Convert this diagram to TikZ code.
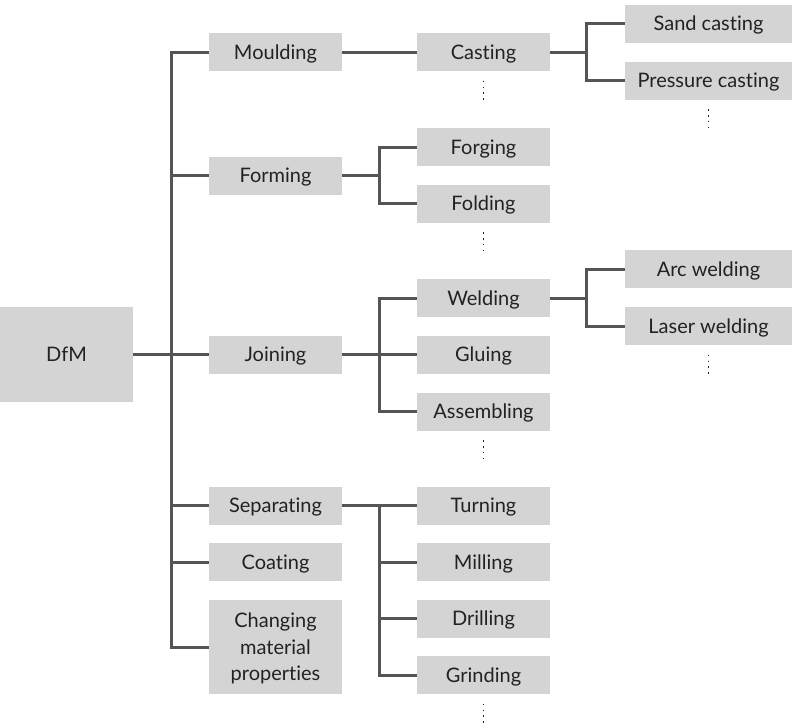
\documentclass[tikz,border=0pt]{standalone}
\usepackage{fontspec}
\setmainfont{Lato}[Ligatures={NoCommon,NoRare}]
\begin{document}
\begin{tikzpicture}[x=1pt,y=-1pt,
  box/.style={fill=boxgray,draw=none,inner sep=0pt,align=center,
    font=\fontsize{20}{26.5}\selectfont,text=textdark},
  oneline/.style={box,text height=14.4pt,text depth=0pt},
  lvone/.style={oneline,minimum width=133pt,minimum height=38pt},
  lvtwo/.style={oneline,minimum width=133pt,minimum height=38pt},
  lvthree/.style={oneline,minimum width=167pt,minimum height=38pt},
  link/.style={draw=linegray,line width=3pt},
  more/.style={draw=textdark,line width=1.6pt,dash pattern=on 1.6pt off 4.2pt}
]
\definecolor{boxgray}{HTML}{D4D4D4}
\definecolor{linegray}{HTML}{555555}
\definecolor{textdark}{HTML}{222222}
\useasboundingbox (0,0) rectangle (792,726);

% root
\node[oneline,minimum width=133pt,minimum height=95pt] (dfm) at (66.5,354.5) {DfM};

% first level
\node[lvone] (mould) at (275.5,52)    {Moulding};
\node[lvone] (form)  at (275.5,175.5) {Forming};
\node[lvone] (join)  at (275.5,354.5) {Joining};
\node[lvone] (sep)   at (275.5,505.5) {Separating};
\node[lvone] (coat)  at (275.5,562)   {Coating};
\node[box,text height=67.4pt,text depth=0pt,minimum width=133pt,minimum height=94pt]
  (chg) at (275.5,647) {Changing\\material\\properties};

% second level
\node[lvtwo] (cast)  at (483.5,52)    {Casting};
\node[lvtwo] (forg)  at (483.5,147)   {Forging};
\node[lvtwo] (fold)  at (483.5,203.5) {Folding};
\node[lvtwo] (weld)  at (483.5,298)   {Welding};
\node[lvtwo] (glue)  at (483.5,354.5) {Gluing};
\node[lvtwo] (assm)  at (483.5,411.5) {Assembling};
\node[lvtwo] (turn)  at (483.5,505.5) {Turning};
\node[lvtwo] (mill)  at (483.5,562)   {Milling};
\node[lvtwo] (drill) at (483.5,618.5) {Drilling};
\node[lvtwo] (grind) at (483.5,675)   {Grinding};

% third level
\node[lvthree] (sand)  at (708.5,23.5)  {Sand casting};
\node[lvthree] (press) at (708.5,80.5)  {Pressure casting};
\node[lvthree] (arc)   at (708.5,269)   {Arc welding};
\node[lvthree] (laser) at (708.5,326)   {Laser welding};

% branch columns
\coordinate (trunk) at (171,0);
\coordinate (midcol) at (379.5,0);
\coordinate (outcol) at (586,0);

% trunk to first level
\draw[link] (dfm.east) -- (join.west);
\draw[link] (mould.west) -| (trunk |- chg.west) -- (chg.west);
\draw[link] (form.west) -- (form.west -| trunk);
\draw[link] (sep.west)  -- (sep.west -| trunk);
\draw[link] (coat.west) -- (coat.west -| trunk);

% moulding branch
\draw[link] (mould.east) -- (cast.west);
\draw[link] (cast.east) -- (cast.east -| outcol);
\draw[link] (sand.west) -| (outcol |- press.west) -- (press.west);

% forming branch
\draw[link] (form.east) -- (form.east -| midcol);
\draw[link] (forg.west) -| (midcol |- fold.west) -- (fold.west);

% joining branch
\draw[link] (join.east) -- (glue.west);
\draw[link] (weld.west) -| (midcol |- assm.west) -- (assm.west);
\draw[link] (weld.east) -- (weld.east -| outcol);
\draw[link] (arc.west) -| (outcol |- laser.west) -- (laser.west);

% separating branch
\draw[link] (sep.east) -- (turn.west);
\draw[link] (turn.west -| midcol) |- (grind.west);
\draw[link] (mill.west) -- (mill.west -| midcol);
\draw[link] (drill.west) -- (drill.west -| midcol);

% continuation marks
\foreach \n in {cast,press,fold,laser,assm,grind}
  \draw[more] ([yshift=-9.5pt]\n.south) -- ++(0,20);
\end{tikzpicture}
\end{document}
